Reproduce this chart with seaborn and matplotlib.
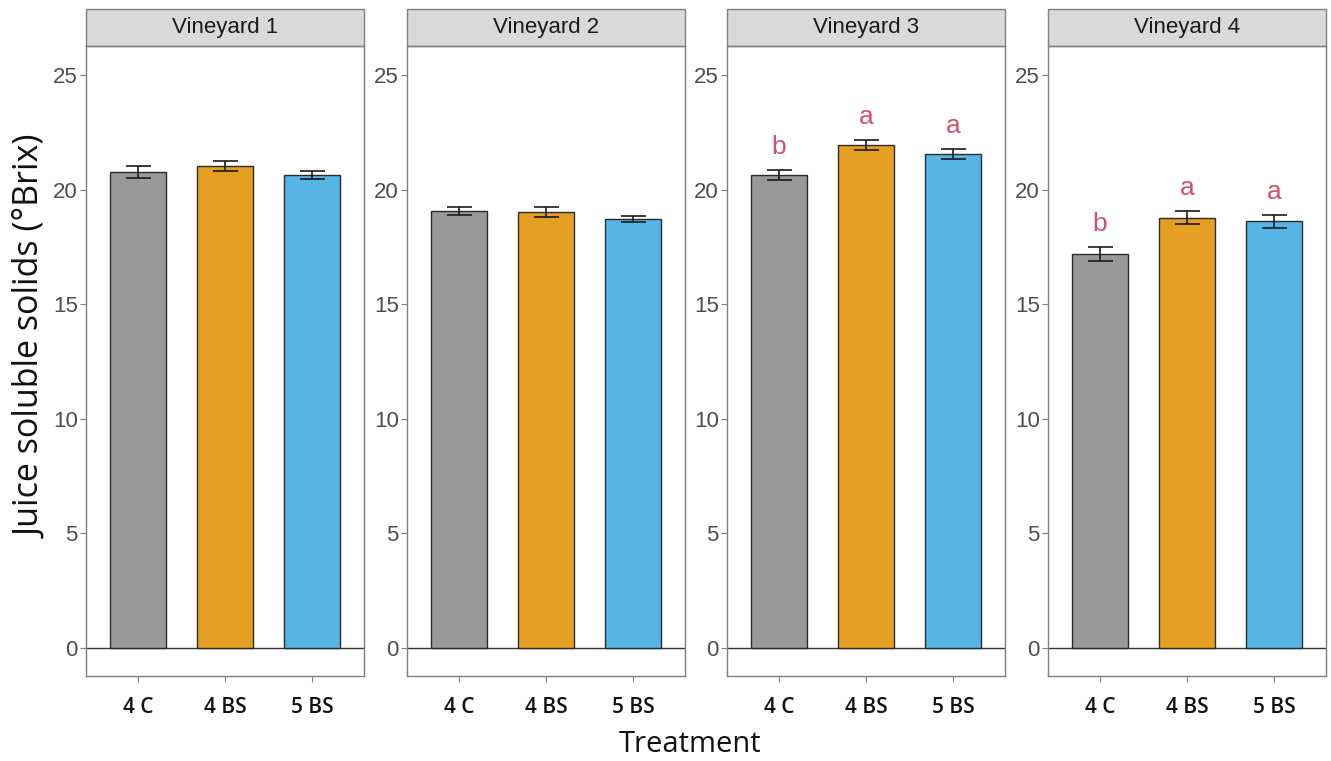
import numpy as np
import matplotlib
matplotlib.use("Agg")
import matplotlib.pyplot as plt
from matplotlib.patches import Rectangle
import seaborn as sns

# data
vineyards = ["Vineyard 1", "Vineyard 2", "Vineyard 3", "Vineyard 4"]
treatments = ["4 C", "4 BS", "5 BS"]
means_v1 = [20.77, 21.03, 20.65]
means_v2 = [19.08, 19.02, 18.72]
means_v3 = [20.65, 21.96, 21.54]
means_v4 = [17.20, 18.78, 18.62]
se_v1 = [0.26, 0.23, 0.17]
se_v2 = [0.17, 0.23, 0.13]
se_v3 = [0.22, 0.22, 0.22]
se_v4 = [0.30, 0.29, 0.27]
letters_v1 = ["", "", ""]
letters_v2 = ["", "", ""]
letters_v3 = ["b", "a", "a"]
letters_v4 = ["b", "a", "a"]

all_means = [means_v1, means_v2, means_v3, means_v4]
all_se = [se_v1, se_v2, se_v3, se_v4]
all_letters = [letters_v1, letters_v2, letters_v3, letters_v4]

bar_colors = ["#999999", "#E5A023", "#56B4E6"]
letter_color = "#D4506F"
border_color = "#7F7F7F"

sns.set_theme(style="white")
plt.rcParams["font.family"] = ["Liberation Sans", "DejaVu Sans"]

fig = plt.figure(figsize=(13.31, 7.61), dpi=100)

lefts = [86, 407, 727, 1048]
panel_w = 278
top_px, bottom_px = 46, 676
strip_h = 37
W, H = 1331, 761

for i, name in enumerate(vineyards):
    ax = fig.add_axes([lefts[i] / W, 1 - bottom_px / H, panel_w / W, (bottom_px - top_px) / H])
    sns.barplot(x=treatments, y=all_means[i], hue=treatments, palette=bar_colors,
                width=0.65, edgecolor="#2b2b2b", linewidth=1.0, saturation=1,
                legend=False, ax=ax, zorder=2)
    ax.errorbar(range(len(treatments)), all_means[i], yerr=all_se[i], fmt="none",
                ecolor="#1a1a1a", elinewidth=1.2, capsize=9, capthick=1.2, zorder=3)
    for j, lab in enumerate(all_letters[i]):
        if lab:
            ax.text(j, all_means[i][j] + all_se[i][j] + 1.0, lab, ha="center", va="center",
                    color=letter_color, fontsize=19)
    ax.axhline(0, color="#333333", lw=1.0, zorder=1)
    ax.set_xlim(-0.6, 2.6)
    ax.set_ylim(-1.22, 26.27)
    ax.set_yticks([0, 5, 10, 15, 20, 25])
    ax.set_xlabel("")
    ax.set_ylabel("")
    for sp in ax.spines.values():
        sp.set_color(border_color)
        sp.set_linewidth(1.0)
    ax.tick_params(axis="y", left=True, length=4, width=0.8, color=border_color,
                   labelsize=16, labelcolor="#4D4D4D", pad=2)
    ax.tick_params(axis="x", bottom=True, length=4, width=0.8, color=border_color,
                   labelsize=15, labelcolor="#111111", pad=11)
    for t in ax.get_xticklabels():
        t.set_family(["Open Sans", "DejaVu Sans"])
        t.set_fontweight("semibold")

    # facet strip
    h = strip_h / (bottom_px - top_px)
    ax.add_patch(Rectangle((0, 1), 1, h, transform=ax.transAxes, clip_on=False,
                           facecolor="#D9D9D9", edgecolor=border_color, lw=1.0))
    ax.text(0.5, 1 + h / 2, name, transform=ax.transAxes, ha="center", va="center",
            fontsize=16, color="#1a1a1a")

fig.text(690 / W, 1 - 745 / H, "Treatment", ha="center", va="center",
         fontsize=21, color="#111111", family=["Open Sans", "DejaVu Sans"])
fig.text(31 / W, 1 - 337 / H, "Juice soluble solids (°Brix)", ha="center", va="center",
         rotation=90, fontsize=24.5, color="#111111", family=["Open Sans", "DejaVu Sans"])

fig.savefig("out.png", dpi=100)
